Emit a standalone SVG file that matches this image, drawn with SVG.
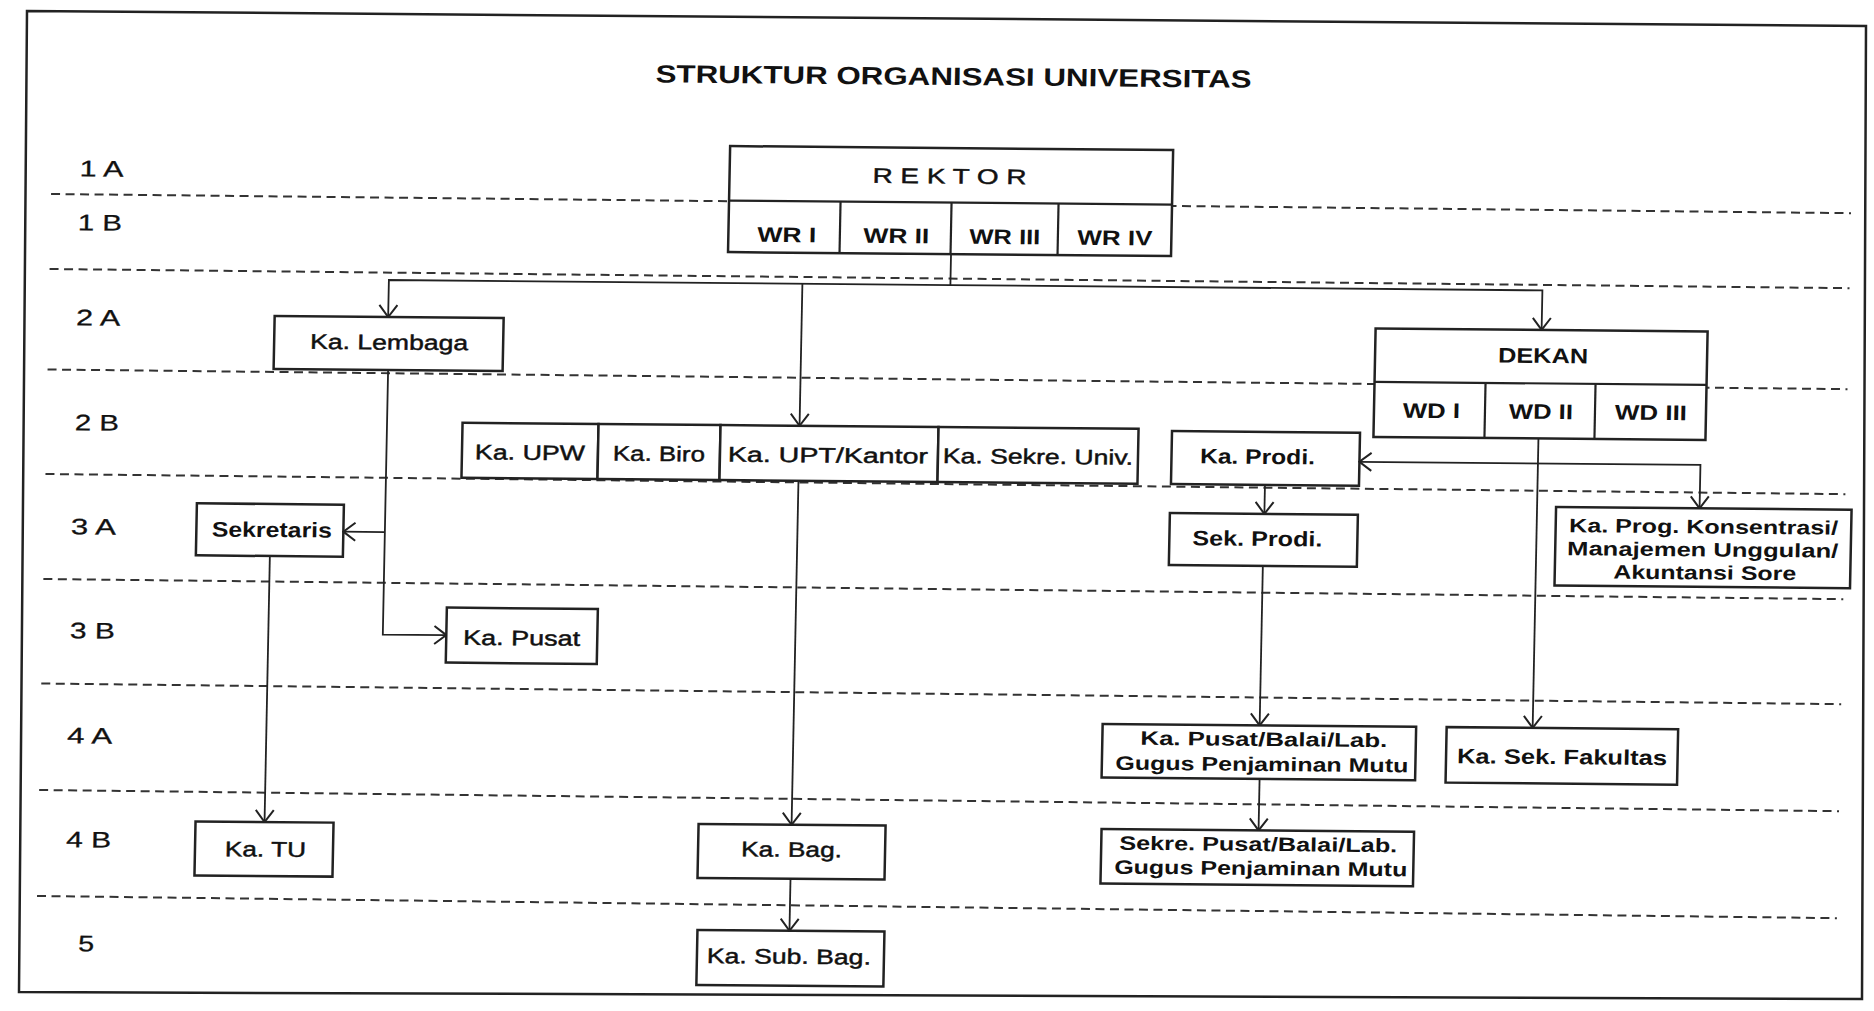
<svg xmlns="http://www.w3.org/2000/svg" width="1874" height="1011" viewBox="0 0 1874 1011">
<style>
.frame{fill:none;stroke:#222;stroke-width:2.5;stroke-linejoin:miter}
.dash{stroke:#333;stroke-width:2;stroke-dasharray:9 5.5;fill:none}
.box{fill:#fff;stroke:#222;stroke-width:2.5}
.div{stroke:#222;stroke-width:2.2;fill:none}
.con{fill:none;stroke:#222;stroke-width:1.8}
text{font-family:"Liberation Sans",Arial,sans-serif;fill:#111}
.r{font-size:21px;stroke:#111;stroke-width:0.45}
.b{font-size:21px;font-weight:bold}
.m{font-size:19.5px;font-weight:bold}
.lab{font-size:22.5px;stroke:#111;stroke-width:0.3}
.title{font-size:25px;font-weight:bold}
</style>
<defs>
<marker id="ah" markerUnits="userSpaceOnUse" viewBox="0 0 14 20" refX="13" refY="10" markerWidth="14" markerHeight="20" orient="auto-start-reverse"><path d="M1,1 L13,10 L1,19" fill="none" stroke="#222" stroke-width="2"/></marker>
</defs>
<rect x="0" y="0" width="1874" height="1011" fill="#fff"/>
<polygon class="frame" points="27,11 1866,26 1862,999 19,992"/>
<g transform="matrix(1 0.009 -0.02 1 10.1 -8.43)">
<text class="title" x="647" y="85" textLength="596" lengthAdjust="spacingAndGlyphs">STRUKTUR ORGANISASI UNIVERSITAS</text>
<g id="levels">
<line class="dash" x1="45" y1="202" x2="1845" y2="205"/>
<line class="dash" x1="45" y1="277" x2="1845" y2="280"/>
<line class="dash" x1="45" y1="377.5" x2="1845" y2="381"/>
<line class="dash" x1="45" y1="482" x2="1845" y2="486"/>
<line class="dash" x1="45" y1="587" x2="1845" y2="591"/>
<line class="dash" x1="45" y1="691.5" x2="1845" y2="696"/>
<line class="dash" x1="45" y1="798" x2="1845" y2="803"/>
<line class="dash" x1="45" y1="904" x2="1845" y2="910"/>
<text class="lab" x="73" y="184" textLength="44" lengthAdjust="spacingAndGlyphs">1 A</text>
<text class="lab" x="72.5" y="238" textLength="44" lengthAdjust="spacingAndGlyphs">1 B</text>
<text class="lab" x="72.5" y="333" textLength="44" lengthAdjust="spacingAndGlyphs">2 A</text>
<text class="lab" x="73.5" y="438" textLength="44" lengthAdjust="spacingAndGlyphs">2 B</text>
<text class="lab" x="71.5" y="542" textLength="45" lengthAdjust="spacingAndGlyphs">3 A</text>
<text class="lab" x="72.5" y="646" textLength="45" lengthAdjust="spacingAndGlyphs">3 B</text>
<text class="lab" x="72" y="751" textLength="45" lengthAdjust="spacingAndGlyphs">4 A</text>
<text class="lab" x="73" y="855" textLength="45" lengthAdjust="spacingAndGlyphs">4 B</text>
<text class="lab" x="87" y="959" textLength="16" lengthAdjust="spacingAndGlyphs">5</text>
</g>
<g id="rektor">
<rect class="box" x="723" y="148" width="443" height="106"/>
<line class="div" x1="723" y1="202.5" x2="1166" y2="202.5"/>
<line class="div" x1="834.5" y1="202.5" x2="834.5" y2="254"/>
<line class="div" x1="945.5" y1="202.5" x2="945.5" y2="254"/>
<line class="div" x1="1052.5" y1="202.5" x2="1052.5" y2="254"/>
<text class="r" x="866" y="183.5" textLength="154" lengthAdjust="spacingAndGlyphs">R E K T O R</text>
<text class="b" x="752" y="243.5" textLength="59" lengthAdjust="spacingAndGlyphs">WR I</text>
<text class="b" x="858" y="243.5" textLength="66" lengthAdjust="spacingAndGlyphs">WR II</text>
<text class="b" x="964" y="243.5" textLength="71" lengthAdjust="spacingAndGlyphs">WR III</text>
<text class="b" x="1072" y="243.5" textLength="75" lengthAdjust="spacingAndGlyphs">WR IV</text>
</g>
<g id="ka-lembaga">
<rect class="box" x="271" y="322" width="229" height="53"/>
<text class="r" x="307" y="354.5" textLength="158" lengthAdjust="spacingAndGlyphs">Ka. Lembaga</text>
</g>
<g id="dekan">
<rect class="box" x="1372" y="324.5" width="332" height="108.5"/>
<line class="div" x1="1372" y1="378" x2="1704" y2="378"/>
<line class="div" x1="1483" y1="378" x2="1483" y2="433"/>
<line class="div" x1="1593" y1="378" x2="1593" y2="433"/>
<text class="b" x="1495" y="357.5" textLength="90" lengthAdjust="spacingAndGlyphs">DEKAN</text>
<text class="b" x="1401" y="413.5" textLength="57" lengthAdjust="spacingAndGlyphs">WD I</text>
<text class="b" x="1507" y="413.5" textLength="64" lengthAdjust="spacingAndGlyphs">WD II</text>
<text class="b" x="1613" y="413.5" textLength="72" lengthAdjust="spacingAndGlyphs">WD III</text>
</g>
<g id="ka-upw">
<rect class="box" x="461" y="427" width="136" height="55"/>
<text class="r" x="474" y="463.5" textLength="110" lengthAdjust="spacingAndGlyphs">Ka. UPW</text>
</g>
<g id="ka-biro">
<rect class="box" x="597" y="427" width="122" height="55"/>
<text class="r" x="612" y="463.5" textLength="92" lengthAdjust="spacingAndGlyphs">Ka. Biro</text>
</g>
<g id="ka-upt">
<rect class="box" x="719" y="427" width="218" height="55"/>
<text class="r" x="727" y="463.5" textLength="200" lengthAdjust="spacingAndGlyphs">Ka. UPT/Kantor</text>
</g>
<g id="ka-sekre-univ">
<rect class="box" x="937" y="427" width="200" height="55"/>
<text class="r" x="942" y="463" textLength="190" lengthAdjust="spacingAndGlyphs">Ka. Sekre. Univ.</text>
</g>
<g id="ka-prodi">
<rect class="box" x="1170.5" y="429" width="188" height="53"/>
<text class="b" x="1199" y="461" textLength="115" lengthAdjust="spacingAndGlyphs">Ka. Prodi.</text>
</g>
<g id="sek-prodi">
<rect class="box" x="1170" y="511" width="188" height="52"/>
<text class="b" x="1193" y="543" textLength="130" lengthAdjust="spacingAndGlyphs">Sek. Prodi.</text>
</g>
<g id="ka-prog">
<rect class="box" x="1556" y="501.5" width="295.5" height="78.5"/>
<text class="m" x="1569.5" y="526.5" textLength="269" lengthAdjust="spacingAndGlyphs">Ka. Prog. Konsentrasi/</text>
<text class="m" x="1568" y="549.5" textLength="271" lengthAdjust="spacingAndGlyphs">Manajemen Unggulan/</text>
<text class="m" x="1614.5" y="572.5" textLength="183" lengthAdjust="spacingAndGlyphs">Akuntansi Sore</text>
</g>
<g id="sekretaris">
<rect class="box" x="197" y="510" width="147" height="52"/>
<text class="b" x="212.5" y="543" textLength="120" lengthAdjust="spacingAndGlyphs">Sekretaris</text>
</g>
<g id="ka-pusat">
<rect class="box" x="449" y="612" width="151" height="55"/>
<text class="r" x="466" y="649" textLength="117" lengthAdjust="spacingAndGlyphs">Ka. Pusat</text>
</g>
<g id="ka-pusat-balai">
<rect class="box" x="1107" y="722.5" width="313.5" height="53.5"/>
<text class="m" x="1145" y="743" textLength="247" lengthAdjust="spacingAndGlyphs">Ka. Pusat/Balai/Lab.</text>
<text class="m" x="1120.5" y="768" textLength="293" lengthAdjust="spacingAndGlyphs">Gugus Penjaminan Mutu</text>
</g>
<g id="ka-sek-fakultas">
<rect class="box" x="1451" y="722.5" width="231.5" height="55.5"/>
<text class="b" x="1462" y="758.5" textLength="210" lengthAdjust="spacingAndGlyphs">Ka. Sek. Fakultas</text>
</g>
<g id="ka-tu">
<rect class="box" x="202" y="828" width="138" height="54"/>
<text class="r" x="232" y="862.5" textLength="81" lengthAdjust="spacingAndGlyphs">Ka. TU</text>
</g>
<g id="ka-bag">
<rect class="box" x="705" y="826" width="187" height="54"/>
<text class="r" x="748" y="858" textLength="101" lengthAdjust="spacingAndGlyphs">Ka. Bag.</text>
</g>
<g id="sekre-pusat-balai">
<rect class="box" x="1108" y="827.5" width="312.5" height="54.5"/>
<text class="m" x="1126" y="848" textLength="278" lengthAdjust="spacingAndGlyphs">Sekre. Pusat/Balai/Lab.</text>
<text class="m" x="1121.5" y="872" textLength="293" lengthAdjust="spacingAndGlyphs">Gugus Penjaminan Mutu</text>
</g>
<g id="ka-sub-bag">
<rect class="box" x="706" y="932" width="187" height="55"/>
<text class="r" x="716" y="965" textLength="164" lengthAdjust="spacingAndGlyphs">Ka. Sub. Bag.</text>
</g>
<g id="connectors">
<path class="con" d="M946,254 V285 H384.5 V322" marker-end="url(#ah)"/>
<path class="con" d="M946,285 H1538 V324.5" marker-end="url(#ah)"/>
<path class="con" d="M798,285 V427" marker-end="url(#ah)"/>
<path class="con" d="M385.5,375 V639.5 H449" marker-end="url(#ah)"/>
<path class="con" d="M385.5,537 H344" marker-end="url(#ah)"/>
<path class="con" d="M271,562 V828" marker-end="url(#ah)"/>
<path class="con" d="M798,482 V826" marker-end="url(#ah)"/>
<path class="con" d="M798,880 V932" marker-end="url(#ah)"/>
<path class="con" d="M1264.5,482 V511" marker-end="url(#ah)"/>
<path class="con" d="M1264,563 V722.5" marker-end="url(#ah)"/>
<path class="con" d="M1265,776 V827.5" marker-end="url(#ah)"/>
<path class="con" d="M1537,433 V722.5" marker-end="url(#ah)"/>
<path class="con" d="M1358.5,458 H1699.5 V501.5" marker-start="url(#ah)" marker-end="url(#ah)"/>
</g>
</g>
</svg>
